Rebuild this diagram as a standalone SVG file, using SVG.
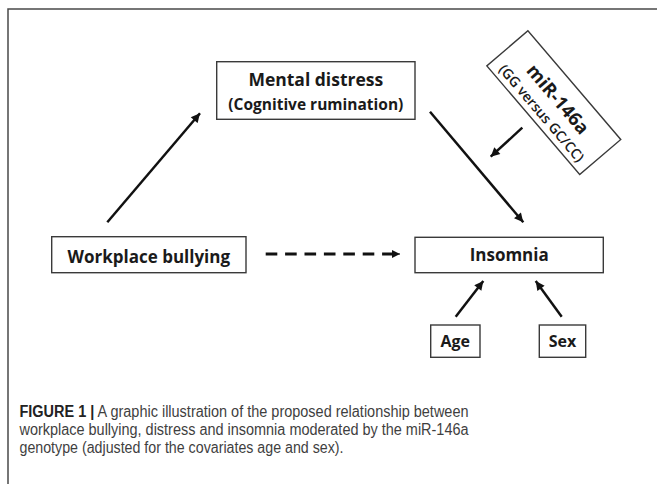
<svg xmlns="http://www.w3.org/2000/svg" width="657" height="484" viewBox="0 0 657 484">
<style>
.box{fill:#fff;stroke:#3a3a3a;stroke-width:1.4}
.lbl{font-family:"Open Sans","Liberation Sans",sans-serif;font-weight:700;fill:#1a1a1a;text-anchor:middle}
.sub{font-family:"Open Sans","Liberation Sans",sans-serif;font-weight:600;fill:#1a1a1a;text-anchor:middle}
.arr{stroke:#111;stroke-width:2.5;fill:none;marker-end:url(#ah)}
.cap{font-family:"Liberation Sans",Arial,sans-serif;font-size:16px;fill:#3f3f3f}
</style>
<defs>
<marker id="ah" viewBox="0 0 10 10" refX="10" refY="5" markerWidth="10" markerHeight="9" markerUnits="userSpaceOnUse" orient="auto">
<path d="M0,0 L10,5 L0,10 z" fill="#111"/>
</marker>
<marker id="ahs" viewBox="0 0 10 10" refX="10" refY="5" markerWidth="8" markerHeight="8" markerUnits="userSpaceOnUse" orient="auto">
<path d="M0,0 L10,5 L0,10 z" fill="#111"/>
</marker>
</defs>
<rect width="657" height="484" fill="#fff"/>
<path d="M8,484 L8,9 L657,9" fill="none" stroke="#4a4a4a" stroke-width="1.5"/>

<g id="connectors">
<line class="arr" x1="107.3" y1="222.3" x2="200" y2="113.3"/>
<line class="arr" x1="430" y1="111.7" x2="523.3" y2="222.3"/>
<line class="arr" x1="522.3" y1="127.7" x2="490.7" y2="156.7"/>
<line x1="265.7" y1="254" x2="393" y2="254" stroke="#111" stroke-width="2.8" stroke-dasharray="11.6 7.8"/>
<line x1="392" y1="254" x2="400" y2="254" stroke="#111" stroke-width="1" marker-end="url(#ahs)"/>
<line class="arr" x1="455.7" y1="316.7" x2="483.3" y2="281"/>
<line class="arr" x1="561.7" y1="316.7" x2="535.7" y2="281"/>
</g>

<g id="mental-distress">
<rect class="box" x="216.7" y="61.7" width="198.3" height="57.6"/>
<text class="lbl" x="315.8" y="85.7" font-size="17.5">Mental distress</text>
<text class="lbl" x="315.8" y="110" font-size="15.5">(Cognitive rumination)</text>
</g>

<g id="mir146a" transform="translate(553.8,102.7) rotate(49.5)">
<rect class="box" x="-71.5" y="-27" width="143" height="54"/>
<text class="lbl" x="0" y="1" font-size="18.5">miR-146a</text>
<text class="sub" x="0" y="21" font-size="14">(GG versus GC/CC)</text>
</g>

<g id="workplace-bullying">
<rect class="box" x="51.7" y="236.7" width="194.3" height="36"/>
<text class="lbl" x="148.8" y="263" font-size="17">Workplace bullying</text>
</g>

<g id="insomnia">
<rect class="box" x="415" y="237.3" width="188.3" height="35.4"/>
<text class="lbl" x="509.2" y="261" font-size="17">Insomnia</text>
</g>

<g id="age">
<rect class="box" x="430.7" y="325" width="49.3" height="32.3"/>
<text class="lbl" x="455.3" y="346.5" font-size="16">Age</text>
</g>

<g id="sex">
<rect class="box" x="539.3" y="325" width="46.4" height="32.3"/>
<text class="lbl" x="562.5" y="346.5" font-size="16">Sex</text>
</g>

<g id="caption">
<text class="cap" x="19.5" y="417" textLength="449" lengthAdjust="spacingAndGlyphs"><tspan font-weight="700" fill="#222">FIGURE 1 |</tspan> A graphic illustration of the proposed relationship between</text>
<text class="cap" x="19.5" y="435.3" textLength="449" lengthAdjust="spacingAndGlyphs">workplace bullying, distress and insomnia moderated by the miR-146a</text>
<text class="cap" x="19.5" y="453" textLength="324" lengthAdjust="spacingAndGlyphs">genotype (adjusted for the covariates age and sex).</text>
</g>
</svg>
